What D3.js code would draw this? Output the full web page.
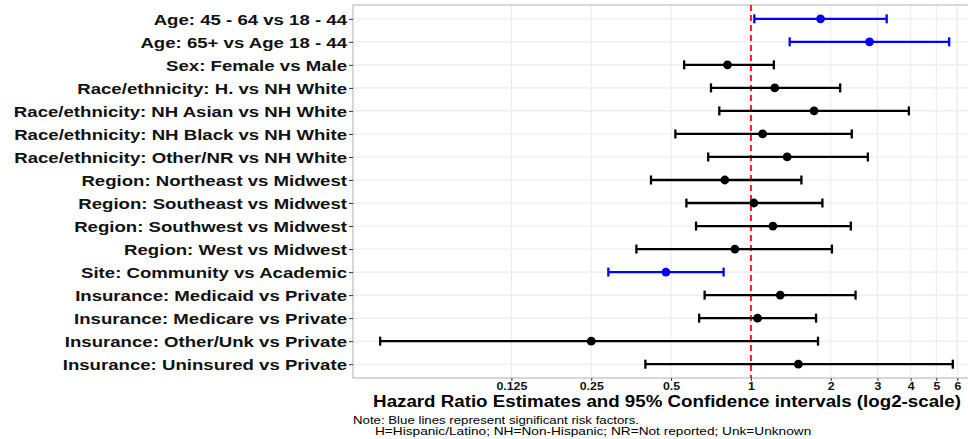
<!DOCTYPE html>
<html>
<head>
<meta charset="utf-8">
<script src="https://cdn.jsdelivr.net/npm/d3@7"></script>
<style>
  body { margin: 0; background: #fff; }
  svg { display: block; font-family: "Liberation Sans", Arial, sans-serif; }
</style>
</head>
<body>
<figure id="forest" style="margin:0"></figure>
<script>
// labels top to bottom
const labels = [
  "Age: 45 - 64 vs 18 - 44",
  "Age: 65+ vs Age 18 - 44",
  "Sex: Female vs Male",
  "Race/ethnicity: H. vs NH White",
  "Race/ethnicity: NH Asian vs NH White",
  "Race/ethnicity: NH Black vs NH White",
  "Race/ethnicity: Other/NR vs NH White",
  "Region: Northeast vs Midwest",
  "Region: Southeast vs Midwest",
  "Region: Southwest vs Midwest",
  "Region: West vs Midwest",
  "Site: Community vs Academic",
  "Insurance: Medicaid vs Private",
  "Insurance: Medicare vs Private",
  "Insurance: Other/Unk vs Private",
  "Insurance: Uninsured vs Private"
];
const hr    = [1.83, 2.80, 0.816, 1.23, 1.73, 1.107, 1.37, 0.797, 1.026, 1.21, 0.87, 0.478, 1.29, 1.059, 0.25, 1.51];
const lower = [1.03, 1.40, 0.56, 0.707, 0.76, 0.519, 0.69, 0.42, 0.571, 0.621, 0.37, 0.29, 0.669, 0.638, 0.040, 0.40];
const upper = [3.25, 5.59, 1.22, 2.17, 3.94, 2.40, 2.76, 1.55, 1.86, 2.38, 2.02, 0.789, 2.48, 1.76, 1.79, 5.77];
const significant = [true, true, false, false, false, false, false, false, false, false, false, true, false, false, false, false];

const xTicks = [0.125, 0.25, 0.5, 1, 2, 3, 4, 5, 6];

const width = 968, height = 439;
const margin = { top: 5, right: 0, bottom: 62, left: 353 };

const rows = labels.map((l, i) => ({ label: l, hr: hr[i], lo: lower[i], hi: upper[i], sig: significant[i] }));

// the original text is drawn a bit wide, so stretch glyphs horizontally
function stretch(sel, k) {
  sel.each(function () {
    const w = this.getComputedTextLength();
    d3.select(this).attr("textLength", w * k).attr("lengthAdjust", "spacingAndGlyphs");
  });
}

const svg = d3.select("figure#forest")
  .append("svg")
  .attr("width", width)
  .attr("height", height);

const x = d3.scaleLog().base(2)
  .domain([0.0316, 6.47])
  .range([margin.left, width - 2]);

const y = d3.scalePoint()
  .domain(labels)
  .range([margin.top, height - margin.bottom + 1])
  .padding(0.6);

const plotBottom = height - margin.bottom + 1;

// grid
svg.append("g")
  .selectAll("line")
  .data(xTicks)
  .enter()
  .append("line")
  .attr("x1", d => x(d)).attr("x2", d => x(d))
  .attr("y1", margin.top).attr("y2", plotBottom)
  .attr("stroke", "#ebebeb").attr("stroke-width", 1.1);

svg.append("g")
  .selectAll("line")
  .data(labels)
  .enter()
  .append("line")
  .attr("x1", margin.left).attr("x2", width)
  .attr("y1", d => y(d)).attr("y2", d => y(d))
  .attr("stroke", "#ebebeb").attr("stroke-width", 1.1);

// panel border (right side runs off the page)
svg.append("rect")
  .attr("x", margin.left).attr("y", margin.top)
  .attr("width", width - margin.left + 10)
  .attr("height", plotBottom - margin.top)
  .attr("fill", "none")
  .attr("stroke", "#bdbdbd").attr("stroke-width", 1.2);

// reference line at HR = 1
svg.append("line")
  .attr("x1", x(1)).attr("x2", x(1))
  .attr("y1", margin.top).attr("y2", plotBottom)
  .attr("stroke", "#ff1a1a")
  .attr("stroke-width", 2)
  .attr("stroke-dasharray", "6,4");

// error bars
const color = d => d.sig ? "#0000ff" : "#000000";
const bars = svg.append("g")
  .selectAll("g")
  .data(rows)
  .enter()
  .append("g");

bars.append("line")
  .attr("x1", d => x(d.lo)).attr("x2", d => x(d.hi))
  .attr("y1", d => y(d.label)).attr("y2", d => y(d.label))
  .attr("stroke", color).attr("stroke-width", 2.3);

bars.append("line")
  .attr("x1", d => x(d.lo)).attr("x2", d => x(d.lo))
  .attr("y1", d => y(d.label) - 4.5).attr("y2", d => y(d.label) + 4.5)
  .attr("stroke", color).attr("stroke-width", 2.3);

bars.append("line")
  .attr("x1", d => x(d.hi)).attr("x2", d => x(d.hi))
  .attr("y1", d => y(d.label) - 4.5).attr("y2", d => y(d.label) + 4.5)
  .attr("stroke", color).attr("stroke-width", 2.3);

bars.append("circle")
  .attr("cx", d => x(d.hr))
  .attr("cy", d => y(d.label))
  .attr("r", 4.4)
  .attr("fill", color);

// axes
const yAxis = svg.append("g")
  .attr("transform", "translate(" + margin.left + ",0)")
  .call(d3.axisLeft(y).tickSize(4).tickPadding(2));
yAxis.select(".domain").remove();
yAxis.selectAll(".tick line").attr("stroke", "#333").attr("stroke-width", 1);
yAxis.selectAll(".tick text")
  .attr("fill", "#111")
  .style("font-size", "15px")
  .style("font-weight", "bold")
  .attr("dy", "0.36em")
  .call(stretch, 1.24);

const xAxis = svg.append("g")
  .attr("transform", "translate(0," + plotBottom + ")")
  .call(d3.axisBottom(x).tickValues(xTicks).tickFormat(d => String(d)).tickSize(3).tickPadding(1));
xAxis.select(".domain").remove();
xAxis.selectAll(".tick line").attr("stroke", "#333");
xAxis.selectAll(".tick text")
  .attr("fill", "#111")
  .style("font-size", "11px")
  .style("font-weight", "bold")
  .call(stretch, 1.12);

// axis title
svg.append("text")
  .attr("x", 667).attr("y", 407)
  .attr("text-anchor", "middle")
  .style("font-size", "16px")
  .style("font-weight", "bold")
  .attr("fill", "#000")
  .text("Hazard Ratio Estimates and 95% Confidence intervals (log2-scale)")
  .call(stretch, 1.17);

// note
svg.append("text")
  .attr("x", 353).attr("y", 424)
  .style("font-size", "10.5px")
  .attr("fill", "#000")
  .text("Note: Blue lines represent significant risk factors.")
  .call(stretch, 1.26);
svg.append("text")
  .attr("x", 375).attr("y", 435)
  .style("font-size", "10.5px")
  .attr("fill", "#000")
  .text("H=Hispanic/Latino; NH=Non-Hispanic; NR=Not reported; Unk=Unknown")
  .call(stretch, 1.3);
</script>
</body>
</html>
